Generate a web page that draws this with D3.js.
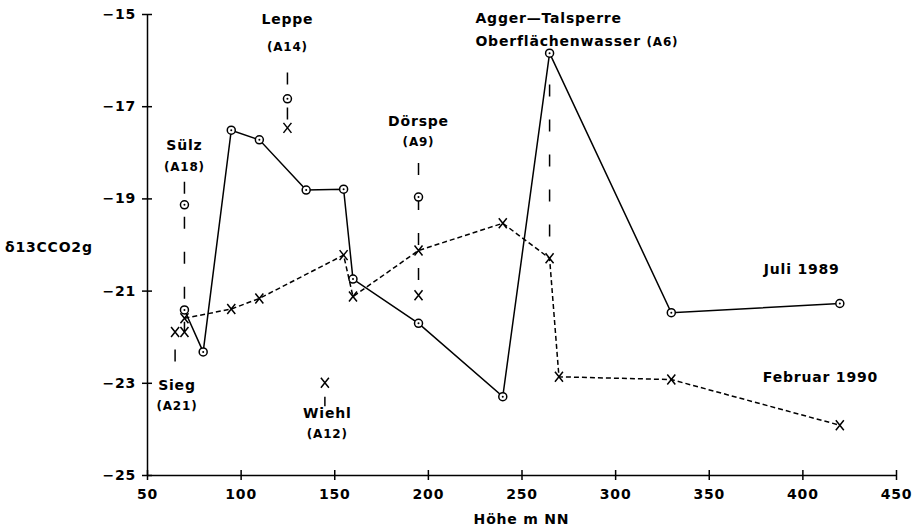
<!DOCTYPE html>
<html>
<head>
<meta charset="utf-8">
<script src="https://cdn.jsdelivr.net/npm/d3@7"></script>
<style>
  body { margin: 0; background: #fff; }
  text { font-family: "DejaVu Sans", sans-serif; font-weight: bold; fill: #000; letter-spacing: 0.8px; }
</style>
</head>
<body>
<svg id="chart" width="923" height="530"></svg>
<script>
// Juli 1989 (circles, solid line)
const juliX = [70, 80, 95, 110, 135, 155, 160, 195, 240, 265, 330, 420];
const juliY = [-21.42, -22.33, -17.52, -17.73, -18.82, -18.8, -20.75, -21.71, -23.3, -15.85, -21.48, -21.28];

// Februar 1990 (crosses, dashed line)
const febX = [70, 95, 110, 155, 160, 195, 240, 265, 270, 330, 420];
const febY = [-21.6, -21.4, -21.17, -20.23, -21.13, -20.13, -19.54, -20.3, -22.87, -22.93, -23.92];

// tributaries, single samples
const tribCircleX = [70, 125, 195];
const tribCircleY = [-19.14, -16.84, -18.97];
const tribCrossX = [65, 70, 125, 145, 195];
const tribCrossY = [-21.9, -21.9, -17.47, -23.0, -21.1];

// vertical pointer lines [x, yTop, yBottom, dashed]
const pointers = [
  [70, -18.64, -21.9, true],
  [125, -16.27, -17.47, true],
  [195, -18.23, -21.1, true],
  [265, -16.53, -20.3, true],
  [65, -22.28, -22.57, true],
  [145, -23.3, -23.51, false]
];

// labels [x, y, text, small text, anchor]
const labels = [
  [125, -15.12, "Leppe", "", "middle"],
  [125, -15.70, "", "(A14)", "middle"],
  [70, -17.85, "Sülz", "", "middle"],
  [70, -18.31, "", "(A18)", "middle"],
  [195, -17.33, "Dörspe", "", "middle"],
  [195, -17.76, "", "(A9)", "middle"],
  [66, -23.04, "Sieg", "", "middle"],
  [66, -23.49, "", "(A21)", "middle"],
  [146.3, -23.66, "Wiehl", "", "middle"],
  [146.3, -24.1, "", "(A12)", "middle"],
  [225.4, -15.09, "Agger—Talsperre", "", "start"],
  [225.4, -15.59, "Oberflächenwasser ", "(A6)", "start"],
  [379.4, -20.53, "Juli 1989", "", "start"],
  [378.9, -22.87, "Februar 1990", "", "start"]
];

const xTicks = [50, 100, 150, 200, 250, 300, 350, 400, 450];
const yTicks = [-25, -23, -21, -19, -17, -15];

const svg = d3.select("#chart");
const x = d3.scaleLinear().domain([50, 450]).range([147, 896]);
const y = d3.scaleLinear().domain([-25, -15]).range([475, 14]);

// axes
const xAxis = svg.append("g")
  .attr("transform", `translate(0,${y(-25)})`)
  .call(d3.axisBottom(x).tickValues(xTicks).tickSizeInner(5).tickSizeOuter(0).tickPadding(9));
const yAxis = svg.append("g")
  .attr("transform", `translate(${x(50)},0)`)
  .call(d3.axisLeft(y).tickValues(yTicks).tickSizeInner(5).tickSizeOuter(0).tickPadding(6));

[xAxis, yAxis].forEach(g => {
  g.select(".domain").attr("stroke", "#000").attr("stroke-width", 1.5);
  g.selectAll(".tick line").attr("stroke", "#000").attr("stroke-width", 1.5);
  g.selectAll(".tick text").attr("font-size", 14).attr("font-family", null);
});
xAxis.selectAll(".tick line").attr("y1", -5).attr("y2", 5);
yAxis.selectAll(".tick line").attr("x1", -5).attr("x2", 5);

// axis titles
svg.append("text").attr("x", x(250)).attr("y", 519).attr("dy", "0.35em")
  .attr("text-anchor", "middle").attr("font-size", 14).text("Höhe m NN");
svg.append("text").attr("x", 5).attr("y", 247).attr("dy", "0.35em")
  .attr("font-size", 14).text("δ13CCO2g");

// pointer lines
pointers.forEach(p => {
  svg.append("line")
    .attr("x1", x(p[0])).attr("x2", x(p[0]))
    .attr("y1", y(p[1])).attr("y2", y(p[2]))
    .attr("stroke", "#000").attr("stroke-width", 1.5)
    .attr("stroke-dasharray", p[3] ? "12,23" : null);
});

// series lines
const line = d3.line().x(d => x(d[0])).y(d => y(d[1]));
const juli = juliX.map((v, i) => [v, juliY[i]]);
const feb = febX.map((v, i) => [v, febY[i]]);

svg.append("path").datum(feb).attr("d", line)
  .attr("fill", "none").attr("stroke", "#000").attr("stroke-width", 1.5)
  .attr("stroke-dasharray", "5,3");
svg.append("path").datum(juli).attr("d", line)
  .attr("fill", "none").attr("stroke", "#000").attr("stroke-width", 1.5);

// markers
function drawCross(px, py) {
  svg.append("path")
    .attr("transform", `translate(${x(px)},${y(py)})`)
    .attr("d", "M-4,-5L4,5M-4,5L4,-5")
    .attr("stroke", "#000").attr("stroke-width", 1.5).attr("fill", "none");
}
function drawCircle(px, py) {
  const g = svg.append("g").attr("transform", `translate(${x(px)},${y(py)})`);
  g.append("circle").attr("r", 4).attr("fill", "#fff").attr("stroke", "#000").attr("stroke-width", 1.5);
  g.append("circle").attr("r", 1).attr("fill", "#000");
}

feb.forEach(d => drawCross(d[0], d[1]));
tribCrossX.forEach((v, i) => drawCross(v, tribCrossY[i]));
juli.forEach(d => drawCircle(d[0], d[1]));
tribCircleX.forEach((v, i) => drawCircle(v, tribCircleY[i]));

// labels
labels.forEach(l => {
  const t = svg.append("text")
    .attr("x", x(l[0])).attr("y", y(l[1])).attr("dy", "0.35em")
    .attr("text-anchor", l[4]).attr("font-size", 14);
  if (l[2]) t.append("tspan").text(l[2]);
  if (l[3]) t.append("tspan").attr("font-size", 12).text(l[3]);
});
</script>
</body>
</html>
